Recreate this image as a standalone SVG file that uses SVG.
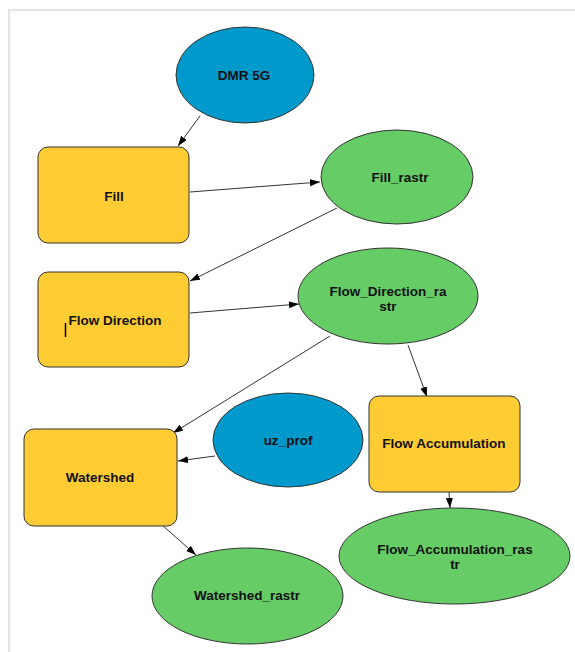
<svg xmlns="http://www.w3.org/2000/svg" width="575" height="652" viewBox="0 0 575 652">
<defs>
<style>
.frame{stroke:#e4e4e4;stroke-width:2;fill:none}
.tool{fill:#ffcc33;stroke:#333;stroke-width:1}
.data{fill:#66cc66;stroke:#333;stroke-width:1}
.input{fill:#0099cc;stroke:#333;stroke-width:1}
.lbl{font-family:"Liberation Sans",Arial,sans-serif;font-weight:bold;font-size:13.5px;fill:#111;text-anchor:middle}
.conn{stroke:#333;stroke-width:1;fill:none;marker-end:url(#arr)}
</style>
<marker id="arr" markerUnits="userSpaceOnUse" markerWidth="11" markerHeight="8" refX="10" refY="3.5" orient="auto">
<path d="M0,0 L10,3.5 L0,7 z" fill="#000"/>
</marker>
</defs>
<rect width="575" height="652" fill="#fff"/>
<path class="frame" d="M9,652 V10 H575"/>

<g id="connectors">
<line class="conn" x1="200" y1="116" x2="178" y2="146"/>
<line class="conn" x1="190" y1="192" x2="320" y2="182"/>
<line class="conn" x1="337" y1="208" x2="190" y2="281"/>
<line class="conn" x1="190" y1="313" x2="299" y2="304"/>
<line class="conn" x1="408" y1="345" x2="427" y2="397"/>
<line class="conn" x1="330" y1="336" x2="173" y2="433"/>
<line class="conn" x1="215" y1="456" x2="178" y2="461"/>
<line class="conn" x1="162" y1="525" x2="196" y2="555"/>
<line class="conn" x1="449" y1="492" x2="450" y2="508"/>
</g>

<g id="dmr5g">
<ellipse class="input" cx="245" cy="75" rx="69" ry="48"/>
<text class="lbl" x="244" y="80">DMR 5G</text>
</g>
<g id="fill">
<rect class="tool" x="38" y="147" width="151" height="96" rx="10"/>
<text class="lbl" x="114" y="201">Fill</text>
</g>
<g id="fill_rastr">
<ellipse class="data" cx="397" cy="177" rx="76" ry="47"/>
<text class="lbl" x="400" y="182">Fill_rastr</text>
</g>
<g id="flow_direction">
<rect class="tool" x="38" y="272" width="151" height="95" rx="10"/>
<text class="lbl" x="115" y="325">Flow Direction</text>
<line x1="65.5" y1="323" x2="65.5" y2="337" stroke="#000" stroke-width="1.5"/>
</g>
<g id="flow_direction_rastr">
<ellipse class="data" cx="388" cy="296" rx="90" ry="48"/>
<text class="lbl" x="388" y="296">Flow_Direction_ra</text>
<text class="lbl" x="388" y="311">str</text>
</g>
<g id="uz_prof">
<ellipse class="input" cx="288" cy="440" rx="75" ry="47"/>
<text class="lbl" x="288" y="445">uz_prof</text>
</g>
<g id="flow_accumulation">
<rect class="tool" x="369" y="396" width="151" height="96" rx="10"/>
<text class="lbl" x="444" y="448">Flow Accumulation</text>
</g>
<g id="watershed">
<rect class="tool" x="24" y="429" width="153" height="97" rx="10"/>
<text class="lbl" x="100" y="482">Watershed</text>
</g>
<g id="watershed_rastr">
<ellipse class="data" cx="247.5" cy="596" rx="95.5" ry="48"/>
<text class="lbl" x="247" y="600">Watershed_rastr</text>
</g>
<g id="flow_accumulation_rastr">
<ellipse class="data" cx="454.5" cy="556" rx="115.5" ry="48"/>
<text class="lbl" x="455" y="554">Flow_Accumulation_ras</text>
<text class="lbl" x="455" y="569">tr</text>
</g>
</svg>
